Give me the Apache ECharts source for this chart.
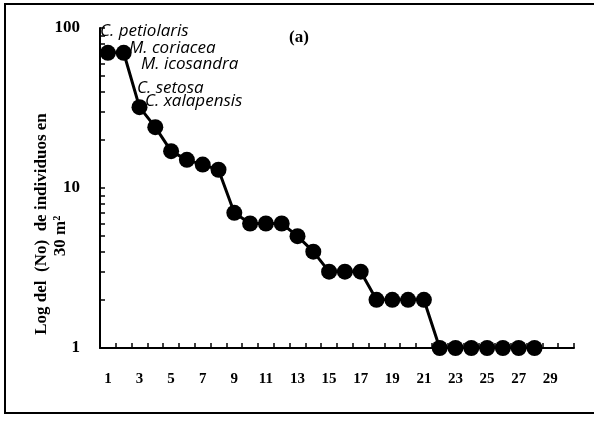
<!DOCTYPE html>
<html>
<head>
<meta charset="utf-8">
<script src="https://cdn.jsdelivr.net/npm/echarts@6/dist/echarts.min.js"></script>
<style>
  html, body { margin: 0; padding: 0; background: #fff; }
  #chart { width: 594px; height: 421px; }
</style>
</head>
<body>
<div id="chart"></div>
<script>
// rank of species (1..30 on the axis)
const ranks = Array.from({ length: 30 }, (_, i) => String(i + 1))
// abundance (No) per rank
const abundance = [70, 70, 32, 24, 17, 15, 14, 13, 7, 6, 6, 6, 5, 4, 3, 3, 3, 2, 2, 2, 2, 1, 1, 1, 1, 1, 1, 1]
const yTicks = [1, 2, 3, 4, 5, 6, 7, 8, 9, 10, 20, 30, 40, 50, 60, 70, 80, 90, 100]
const yLabels = [1, 10, 100]
const speciesNames = ['C. petiolaris', 'M. coriacea', 'M. icosandra', 'C. setosa', 'C. xalapensis']
const yTitle = ['Log del  (No)  de individuos en', '30 m²']

const myChart = echarts.init(document.getElementById('chart'))

const serif = '"Liberation Serif", "Times New Roman", serif'
const speciesPos = [[100, 31], [129, 48], [141, 64], [137, 88], [145, 101]]
const tickStyle = { color: '#000', width: 1.5 }

myChart.setOption({
  animation: false,
  grid: { left: 100, right: 20, top: 28, bottom: 73 },
  xAxis: [
    {
      type: 'category',
      data: ranks,
      boundaryGap: true,
      axisLine: { lineStyle: { color: '#000', width: 2 } },
      axisTick: { show: false },
      axisLabel: {
        interval: 1,
        margin: 24,
        color: '#000',
        fontFamily: serif,
        fontWeight: 'bold',
        fontSize: 15
      },
      splitLine: { show: false }
    },
    {
      // tick marks on the category boundaries
      type: 'value',
      position: 'bottom',
      min: 0,
      max: ranks.length,
      interval: 1,
      axisLine: { show: false },
      axisTick: { show: true, inside: true, length: 5, lineStyle: tickStyle },
      axisLabel: { show: false },
      splitLine: { show: false }
    }
  ],
  yAxis: {
    type: 'log',
    logBase: 10,
    min: 1,
    max: 100,
    axisLine: { show: true, lineStyle: { color: '#000', width: 2 } },
    axisTick: { show: true, inside: true, length: 5, customValues: yTicks, lineStyle: tickStyle },
    axisLabel: {
      customValues: yLabels,
      margin: 20,
      color: '#000',
      fontFamily: serif,
      fontWeight: 'bold',
      fontSize: 17
    },
    splitLine: { show: false }
  },
  series: [
    {
      type: 'line',
      xAxisIndex: 0,
      data: abundance,
      symbol: 'circle',
      symbolSize: 16,
      showAllSymbol: true,
      itemStyle: { color: '#000' },
      lineStyle: { color: '#000', width: 3 }
    }
  ],
  graphic: [
    {
      type: 'rect',
      shape: { x: 5, y: 4, width: 620, height: 409 },
      style: { fill: 'none', stroke: '#000', lineWidth: 2 },
      silent: true
    },
    {
      type: 'text',
      x: 289, y: 38,
      style: { text: '(a)', fill: '#000', font: 'bold 17px ' + serif, textVerticalAlign: 'middle' }
    },
    {
      type: 'text',
      x: 42, y: 224,
      rotation: Math.PI / 2,
      style: { text: yTitle[0], fill: '#000', font: 'bold 17px ' + serif, textAlign: 'center', textVerticalAlign: 'middle' }
    },
    {
      type: 'text',
      x: 61, y: 236,
      rotation: Math.PI / 2,
      style: { text: yTitle[1], fill: '#000', font: 'bold 17px ' + serif, textAlign: 'center', textVerticalAlign: 'middle' }
    },
    ...speciesNames.map((name, i) => ({
      type: 'text',
      x: speciesPos[i][0],
      y: speciesPos[i][1],
      z: 10,
      style: { text: name, fill: '#000', font: 'italic 17px "Open Sans", "Liberation Sans", sans-serif', textVerticalAlign: 'middle' }
    }))
  ]
})
</script>
</body>
</html>
